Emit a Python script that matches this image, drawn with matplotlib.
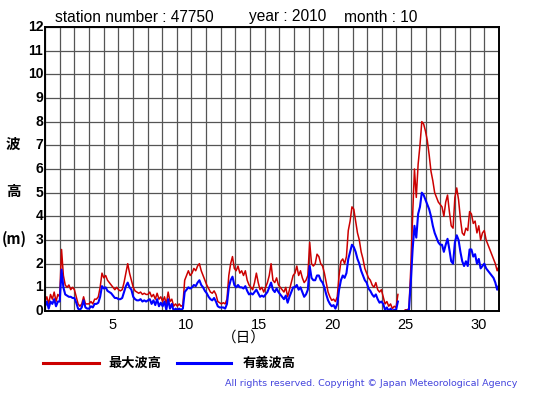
import numpy as np
import matplotlib
matplotlib.use("Agg")
import matplotlib.pyplot as plt

# ---- data (3-hourly samples, 8 per day) ----
max_wave = [
    0.4, 0.6, 0.3, 0.7, 0.5, 0.8, 0.4, 0.7,      # day 1
    0.6, 2.6, 1.5, 1.1, 1.0, 1.1, 0.9, 1.0,      # day 2
    0.9, 0.6, 0.3, 0.2, 0.3, 0.6, 0.3, 0.3,      # day 3
    0.3, 0.4, 0.3, 0.5, 0.5, 0.6, 1.0, 1.6,      # day 4
    1.4, 1.5, 1.3, 1.2, 1.1, 1.0, 0.9, 1.0,      # day 5
    0.9, 0.85, 0.9, 1.2, 1.6, 2.0, 1.6, 1.3,     # day 6
    1.0, 0.85, 0.8, 0.75, 0.8, 0.7, 0.75, 0.7,   # day 7
    0.7, 0.8, 0.6, 0.7, 0.5, 0.75, 0.5, 0.6,     # day 8
    0.4, 0.6, 0.3, 0.8, 0.4, 0.5, 0.2, 0.3,      # day 9
    0.2, 0.3, 0.2, 0.25, 1.3, 1.5, 1.7, 1.5,     # day 10
    1.6, 1.8, 1.7, 1.9, 2.0, 1.7, 1.5, 1.3,      # day 11
    1.1, 0.95, 0.8, 0.75, 0.85, 0.7, 0.4, 0.35,  # day 12
    0.3, 0.35, 0.3, 0.5, 1.5, 2.0, 2.3, 1.8,     # day 13
    1.7, 1.9, 1.6, 1.7, 1.5, 1.7, 1.3, 1.1,      # day 14
    1.0, 0.9, 1.2, 1.6, 1.2, 0.9, 1.0, 0.8,      # day 15
    1.0, 1.2, 1.5, 2.0, 1.3, 1.2, 1.4, 1.1,      # day 16
    1.0, 0.9, 0.8, 1.0, 0.6, 0.9, 1.2, 1.5,      # day 17
    1.6, 1.9, 1.5, 1.7, 1.4, 1.2, 1.3, 1.5,      # day 18
    2.9, 2.0, 1.9, 2.0, 2.4, 2.3, 2.0, 1.9,      # day 19
    1.6, 1.2, 0.8, 0.6, 0.45, 0.5, 0.4, 0.6,     # day 20
    1.5, 2.1, 2.2, 2.0, 2.3, 3.4, 3.8, 4.4,      # day 21
    4.3, 3.8, 3.3, 3.0, 2.5, 2.2, 1.8, 1.6,      # day 22
    1.4, 1.3, 1.1, 1.0, 1.2, 0.9, 0.8, 0.9,      # day 23
    0.6, 0.3, 0.4, 0.2, 0.3, 0.1, 0.2, 0.15,     # day 24
    0.7, np.nan, np.nan, np.nan, 0.05, 0.05, 0.1, 1.8,  # day 25
    4.0, 6.0, 4.8, 6.2, 7.0, 8.0, 7.9, 7.6,      # day 26
    7.2, 6.6, 5.9, 5.5, 5.0, 4.8, 4.6, 4.5,      # day 27
    4.4, 4.0, 4.6, 4.9, 4.2, 3.6, 3.5, 4.8,      # day 28
    5.2, 4.7, 3.9, 3.3, 3.2, 3.5, 3.4, 4.2,      # day 29
    4.1, 3.7, 3.8, 3.3, 3.6, 3.0, 3.3, 3.4,      # day 30
    3.0, 2.8, 2.6, 2.4, 2.2, 2.0, 1.7, 1.9,      # day 31
]
sig_wave = [
    0.2, 0.4, 0.1, 0.4, 0.3, 0.5, 0.2, 0.4,      # day 1
    0.4, 1.75, 1.0, 0.7, 0.65, 0.6, 0.6, 0.55,   # day 2
    0.55, 0.35, 0.1, 0.05, 0.15, 0.45, 0.15, 0.1,  # day 3
    0.1, 0.2, 0.15, 0.3, 0.3, 0.35, 0.6, 1.05,   # day 4
    0.95, 1.0, 0.85, 0.8, 0.75, 0.65, 0.55, 0.55,  # day 5
    0.5, 0.5, 0.55, 0.8, 1.05, 1.2, 1.0, 0.9,    # day 6
    0.6, 0.5, 0.45, 0.45, 0.5, 0.4, 0.45, 0.4,   # day 7
    0.45, 0.5, 0.3, 0.45, 0.25, 0.5, 0.2, 0.35,  # day 8
    0.2, 0.4, 0.05, 0.5, 0.1, 0.3, 0.0, 0.1,     # day 9
    0.05, 0.1, 0.05, 0.1, 0.8, 0.9, 1.0, 0.95,   # day 10
    1.0, 1.1, 1.05, 1.2, 1.3, 1.1, 1.0, 0.85,    # day 11
    0.75, 0.6, 0.5, 0.45, 0.55, 0.4, 0.2, 0.15,  # day 12
    0.15, 0.15, 0.1, 0.3, 1.0, 1.3, 1.45, 1.1,   # day 13
    1.0, 1.1, 1.0, 1.0, 0.95, 1.05, 0.85, 0.7,   # day 14
    0.75, 0.7, 0.8, 0.9, 0.75, 0.6, 0.65, 0.6,   # day 15
    0.7, 0.8, 1.0, 1.2, 0.9, 0.8, 0.95, 0.8,     # day 16
    0.7, 0.6, 0.5, 0.65, 0.35, 0.6, 0.8, 1.0,    # day 17
    1.0, 1.1, 0.9, 1.0, 0.8, 0.6, 0.7, 0.9,      # day 18
    1.9, 1.4, 1.3, 1.3, 1.5, 1.5, 1.3, 1.2,      # day 19
    1.0, 0.7, 0.45, 0.3, 0.2, 0.25, 0.1, 0.3,    # day 20
    0.9, 1.3, 1.5, 1.4, 1.6, 2.2, 2.5, 2.8,      # day 21
    2.7, 2.5, 2.2, 2.0, 1.7, 1.5, 1.3, 1.2,      # day 22
    0.95, 0.85, 0.7, 0.6, 0.7, 0.5, 0.35, 0.4,   # day 23
    0.3, 0.05, 0.15, 0.0, 0.1, 0.0, 0.05, 0.05,  # day 24
    0.4, np.nan, np.nan, np.nan, 0.0, 0.02, 0.05, 1.2,  # day 25
    2.6, 3.6, 3.1, 4.1, 4.4, 5.0, 4.9, 4.7,      # day 26
    4.5, 4.3, 4.0, 3.6, 3.3, 3.1, 2.9, 2.8,      # day 27
    2.8, 2.5, 2.8, 3.05, 2.6, 2.1, 2.0, 2.9,     # day 28
    3.2, 3.0, 2.5, 2.1, 1.9, 2.1, 1.9, 2.6,      # day 29
    2.6, 2.3, 2.4, 2.0, 2.2, 1.8, 1.9, 2.0,      # day 30
    1.8, 1.7, 1.6, 1.5, 1.4, 1.2, 0.9, 1.1,      # day 31
]
x_tick_days = [5, 10, 15, 20, 25, 30]
y_ticks = list(range(0, 13))
n_days = 31

station = "47750"
year = "2010"
month = "10"

# ---- figure ----
W, H = 555, 395
fig = plt.figure(figsize=(W / 100, H / 100), dpi=100)
fig.patch.set_facecolor("white")
L, R, T, B = 45, 499, 27, 311
ax = fig.add_axes([L / W, 1 - B / H, (R - L) / W, (B - T) / H])

t = np.linspace(0, n_days, len(max_wave))
ax.plot(t, max_wave, color="#cc0000", lw=1.1)
ax.plot(t, sig_wave, color="#0000ff", lw=1.5)

ax.set_xlim(0, n_days)
ax.set_ylim(0, 12)
ax.set_xticks(np.arange(0, n_days + 1))
ax.set_yticks(y_ticks)
ax.grid(True, color="#555555", lw=0.9)
ax.set_axisbelow(True)
ax.tick_params(length=0)
ax.set_xticklabels([])
ax.set_yticklabels([])
for s in ax.spines.values():
    s.set_color("black")
    s.set_linewidth(1.4)

num_font = "Liberation Sans"
for d in x_tick_days:
    ax.text(d - 0.4, -0.3, str(d), ha="center", va="top", fontsize=10.5,
            family=num_font, transform=ax.transData, clip_on=False)
for v in y_ticks:
    ax.text(-0.12, v, str(v), ha="right", va="center", fontsize=10,
            family=num_font, fontweight="bold", transform=ax.transData, clip_on=False)

def px(x, y):
    return x / W, 1 - y / H

fig.text(*px(55, 17), f"station number : {station}", ha="left", va="center",
         fontsize=11.2, family=num_font)
fig.text(*px(249, 17), f"year : {year}", ha="left", va="center",
         fontsize=11.2, family=num_font)
fig.text(*px(344, 17), f"month : {month}", ha="left", va="center",
         fontsize=11.2, family=num_font)

cjk = ["Noto Sans CJK JP", "DejaVu Sans"]
fig.text(*px(13, 144), "波", ha="center", va="center", fontsize=10.5,
         family=cjk, fontweight="bold")
fig.text(*px(13, 191), "高", ha="center", va="center", fontsize=10.5,
         family=cjk, fontweight="bold")
fig.text(*px(14, 239), "(m)", ha="center", va="center", fontsize=10.5,
         family=cjk, fontweight="bold")
fig.text(*px(244, 338), "（日）", ha="center", va="center", fontsize=10.5,
         family=cjk)

# legend
fig.add_artist(plt.Line2D([43 / W, 99 / W], [1 - 363 / H] * 2, color="#cc0000", lw=2.2))
fig.text(*px(108, 363), "最大波高", ha="left", va="center", fontsize=9.5,
         family=cjk, fontweight="bold")
fig.add_artist(plt.Line2D([177 / W, 231 / W], [1 - 363 / H] * 2, color="#0000ff", lw=2.2))
fig.text(*px(243, 363), "有義波高", ha="left", va="center", fontsize=9.5,
         family=cjk, fontweight="bold")

fig.text(*px(517, 384), "All rights reserved. Copyright © Japan Meteorological Agency",
         ha="right", va="center", fontsize=6.8, color="#4444dd", family="DejaVu Sans")

fig.savefig("out.png", dpi=100, facecolor="white")
